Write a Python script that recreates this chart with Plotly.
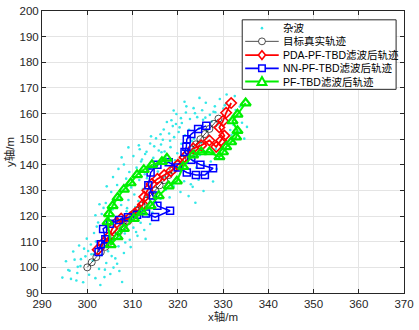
import plotly.graph_objects as go

# clutter (杂波)
clutter_x = [294.5,295.8,296.4,297.2,297.8,298.5,299.1,299.6,300.4,301.2,301.8,302.6,303.1,296.9,298.2,300.8,302.9,304.2,305.1,304.6,306.2,307.7,305.8,299.9,301.5,303.7,306.9,308.1,298.6,295.3,
             302.4,303.2,304.5,305.3,306.1,307.2,308.3,309.4,310.2,311.1,309.8,308.7,307.5,306.4,305.6,304.1,303.6,311.8,312.6,313.4,310.6,312.2,305.1,307.9,309.1,301.8,313.9,314.4,302.7,306.8,
             305.3,306.6,307.9,308.6,309.7,310.4,311.5,312.3,313.1,314.2,315.1,316.2,317.4,318.2,319.1,316.8,315.6,313.8,312.7,310.9,309.3,308.1,311.9,317.9,319.8,320.6,321.4,314.7,307.4,318.7,
             310.2,311.6,312.8,313.9,314.6,315.8,316.7,317.3,318.4,319.2,319.9,320.8,321.6,322.3,323.4,324.1,324.9,325.8,326.6,327.3,325.2,323.6,322.5,320.4,318.1,316.2,328.4,329.1,326.9,324.7,
             318.6,319.7,320.9,321.8,322.7,323.5,324.3,325.4,326.2,327.1,328.2,329.3,330.1,331.2,332.3,333.1,334.2,333.7,332.6,330.8,328.9,327.5,326.4,331.9,333.4,334.7,335.3,329.8,321.5,324.8,
             322.4,323.3,324.6,325.7,326.5,327.8,328.6,323.9,304.3,305.7,306.9,307.6,309.1,
             300.2,301.9,303.4,304.9,306.3,308.8,311.3,313.2,315.4,317.1,319.4,321.1,323.1,325.6,327.9,330.4,316.3,318.9,320.2,322.9,
             313.1,314.8,316.9,318.3,319.6,320.7,317.6,315.2,312.1,311.4,314.1,316.4,319.1,321.9,323.8,326.1,328.3,330.7,332.8,331.6,
             296.1,297.6,299.3,301.4,303.9,305.4,307.1,309.6,310.8,312.9,302.1,304.7,307.3,309.9,312.4,297.9,300.9,303.8,306.6,308.4]
clutter_y = [96.0,99.0,95.5,103.0,97.8,100.5,94.2,104.3,97.1,102.6,95.8,99.4,104.8,106.2,108.5,108.9,93.1,101.7,97.4,106.3,103.5,94.3,99.9,111.2,113.4,111.9,108.2,105.6,103.2,102.4,
             117.5,120.8,114.7,110.6,113.9,111.4,113.2,110.8,115.5,112.3,118.7,121.9,124.3,119.2,122.6,125.1,123.2,117.4,114.6,119.8,123.5,122.1,116.8,117.5,126.3,120.3,116.9,121.4,124.6,127.2,
             129.4,132.1,129.9,134.6,131.2,128.4,134.1,130.5,127.6,132.9,129.1,126.8,130.2,127.3,131.6,134.7,137.4,138.6,136.3,138.9,137.2,140.1,141.3,136.1,134.8,129.4,133.6,125.6,126.1,139.3,
             143.4,146.1,144.2,148.3,142.7,145.6,149.8,143.1,146.9,150.8,144.5,148.2,151.5,145.7,141.6,138.9,143.8,140.2,144.9,141.3,148.6,150.1,153.7,154.6,152.2,151.9,146.2,142.7,151.3,154.2,
             157.4,159.8,156.3,160.4,157.9,162.1,158.6,161.3,164.2,159.5,162.8,165.7,161.9,157.2,155.6,159.3,156.4,162.7,166.8,167.4,155.8,156.9,153.3,151.7,152.9,150.2,154.8,150.6,164.6,166.1,
             127.8,131.4,134.2,129.8,136.7,133.5,138.4,125.2,131.6,135.2,138.4,142.9,146.8,
             106.4,110.1,108.2,118.4,115.7,123.1,125.9,134.8,139.6,145.2,141.8,138.2,149.3,157.6,160.7,163.2,147.9,155.1,152.8,132.4,
             145.1,147.2,153.8,149.4,155.9,158.2,156.7,150.3,142.1,147.6,151.1,144.9,161.2,162.8,160.1,158.4,160.5,163.9,161.4,153.6,
             98.7,94.9,107.3,105.2,99.1,104.4,98.6,107.9,113.8,111.1,115.9,119.6,115.4,121.8,125.3,100.2,105.1,96.2,101.4,109.7]

# true trajectory (目标真实轨迹)
true_x = [300,301,302,303,304,305,306,307,308,309,310,311,312,313,314,315,316,317,318,319,320,321,322,323,324,325,326,327,328,329]
true_y = [100,102,104,106,108,110,112,114,116,118,120,122,124,126,128,130,132,134,136,138,140,142,144,146,148,150,152,154,156,158]

# PDA-PF-TBD
pda_x = [302.3,303.5,304.8,305.5,306.5,307.5,308.5,309.5,310.5,311.5,312.3,312.6,313.3,314.2,315.5,317.0,318.5,320.0,321.5,323.4,325.2,327.0,328.5,329.6,330.3,329.2,330.0,330.7,331.8]
pda_y = [106.9,109.5,112.0,115.0,117.5,119.0,118.0,119.5,121.0,122.5,124.5,127.5,130.0,132.5,134.5,136.0,137.5,140.0,143.0,146.4,147.6,149.5,147.0,149.5,151.4,154.6,157.1,160.3,164.1]

# NN-PF-TBD
nn_x = [302.5,303.0,304.0,303.5,305.0,307.0,309.0,311.0,313.0,315.0,318.3,315.5,314.5,313.5,314.0,315.5,318.0,320.0,322.0,324.0,326.0,327.8,325.0,323.0,321.5,321.9,322.0,323.0,324.5,326.3]
nn_y = [106.0,109.0,111.0,115.0,117.0,118.5,119.5,120.5,121.0,119.6,122.1,124.0,128.0,132.0,137.0,140.0,141.0,139.0,137.0,136.0,136.0,138.7,140.0,142.0,145.0,147.0,150.0,152.0,154.0,155.2]

# PF-TBD
pf_x = [317.6,316.5,314.3,312.5,311.0,309.6,308.1,306.7,305.6,304.8,304.5,305.2,306.7,308.1,310.3,312.1,314.0,315.8,318.0,319.8,321.2,323.4,325.2,327.0,329.2,330.0,330.7,331.8,332.9,333.2,332.1,333.2,335.0]
pf_y = [142.5,141.2,140.0,138.1,136.1,132.9,130.4,127.2,124.0,120.9,117.7,108.8,111.9,115.1,119.0,121.5,124.0,127.9,131.7,133.6,139.3,143.8,145.0,145.0,143.1,145.0,147.0,148.9,150.8,153.3,157.1,159.7,164.1]

x_ticks = [290, 300, 310, 320, 330, 340, 350, 360, 370]
y_ticks = [90, 100, 110, 120, 130, 140, 150, 160, 170, 180, 190, 200]
legend_names = ["杂波", "目标真实轨迹", "PDA-PF-TBD滤波后轨迹", "NN-PF-TBD滤波后轨迹", "PF-TBD滤波后轨迹"]

W, H = 419, 330
ML, MR, MT, MB = 42, 10, 5, 37
PW, PH = W - ML - MR, H - MT - MB


def px(xp):
    return (xp - ML) / PW


def py(yp):
    return (H - MB - yp) / PH


fig = go.Figure()
fig.add_trace(go.Scatter(x=clutter_x, y=clutter_y, mode="markers", name=legend_names[0],
                         marker=dict(symbol="circle", size=2.6, color="#33e8e8", line=dict(width=0))))
fig.add_trace(go.Scatter(x=true_x, y=true_y, mode="lines+markers", name=legend_names[1],
                         line=dict(color="#222222", width=0.8),
                         marker=dict(symbol="circle-open", size=7, color="#222222", line=dict(width=0.8))))
fig.add_trace(go.Scatter(x=pda_x, y=pda_y, mode="lines+markers", name=legend_names[2],
                         line=dict(color="#ff0000", width=1.8),
                         marker=dict(symbol="diamond-open", size=8, color="#ff0000", line=dict(width=1.6))))
fig.add_trace(go.Scatter(x=nn_x, y=nn_y, mode="lines+markers", name=legend_names[3],
                         line=dict(color="#0000ff", width=1.5),
                         marker=dict(symbol="square-open", size=7, color="#0000ff", line=dict(width=1.5))))
fig.add_trace(go.Scatter(x=pf_x, y=pf_y, mode="lines+markers", name=legend_names[4],
                         line=dict(color="#00ff00", width=2),
                         marker=dict(symbol="triangle-up-open", size=9, color="#00ee00", line=dict(width=2.2))))

# legend box drawn manually (MATLAB-style compact legend)
shapes = []
annotations = []
lx0, lx1, ly0, ly1 = 245, 401, 14, 85
shapes.append(dict(type="rect", xref="paper", yref="paper", x0=px(lx0), x1=px(lx1), y0=py(ly1), y1=py(ly0),
                   fillcolor="white", line=dict(color="#262626", width=1), layer="above"))
rows = [22.5, 36, 50, 63.5, 77]
colors = ["#33e8e8", "#222222", "#ff0000", "#0000ff", "#00ee00"]
widths = [0, 0.8, 1.8, 1.8, 2]
cx = 265
for i, name in enumerate(legend_names):
    yy = rows[i]
    if i > 0:
        shapes.append(dict(type="line", xref="paper", yref="paper", x0=px(248), x1=px(282), y0=py(yy), y1=py(yy),
                           line=dict(color=colors[i], width=widths[i]), layer="above"))
    if i == 0:
        r = 1.3
        shapes.append(dict(type="circle", xref="paper", yref="paper", x0=px(cx - r), x1=px(cx + r),
                           y0=py(yy + r), y1=py(yy - r), fillcolor=colors[0], line=dict(width=0), layer="above"))
    elif i == 1:
        r = 3.5
        shapes.append(dict(type="circle", xref="paper", yref="paper", x0=px(cx - r), x1=px(cx + r),
                           y0=py(yy + r), y1=py(yy - r), fillcolor="white", line=dict(color=colors[1], width=0.8), layer="above"))
    elif i == 2:
        r = 4.5
        path = "M {} {} L {} {} L {} {} L {} {} Z".format(px(cx), py(yy - r), px(cx + r * 0.8), py(yy), px(cx), py(yy + r), px(cx - r * 0.8), py(yy))
        shapes.append(dict(type="path", xref="paper", yref="paper", path=path, fillcolor="white",
                           line=dict(color=colors[2], width=1.6), layer="above"))
    elif i == 3:
        r = 3.3
        shapes.append(dict(type="rect", xref="paper", yref="paper", x0=px(cx - r), x1=px(cx + r),
                           y0=py(yy + r), y1=py(yy - r), fillcolor="white", line=dict(color=colors[3], width=1.5), layer="above"))
    else:
        r = 4.5
        path = "M {} {} L {} {} L {} {} Z".format(px(cx), py(yy - r), px(cx + r), py(yy + r * 0.8), px(cx - r), py(yy + r * 0.8))
        shapes.append(dict(type="path", xref="paper", yref="paper", path=path, fillcolor="white",
                           line=dict(color=colors[4], width=2), layer="above"))
    annotations.append(dict(x=px(284), y=py(yy), xref="paper", yref="paper", text=name, showarrow=False,
                            xanchor="left", yanchor="middle",
                            font=dict(size=10.5, family="Liberation Sans, Noto Sans CJK SC", color="#000000")))

axis_common = dict(showline=True, mirror="ticks", linecolor="#262626", linewidth=1,
                   ticks="inside", ticklen=4, tickcolor="#262626",
                   showgrid=True, gridcolor="#e4e4e4", gridwidth=1, zeroline=False,
                   tickfont=dict(family="Liberation Sans, Arial", size=11.5, color="#262626"))

fig.update_layout(
    width=W, height=H,
    margin=dict(l=ML, r=MR, t=MT, b=MB),
    paper_bgcolor="white", plot_bgcolor="white",
    font=dict(family="Liberation Sans, Noto Sans CJK SC", color="#262626"),
    xaxis=dict(range=[290, 370], tickvals=x_ticks,
               title=dict(text="x轴/m", font=dict(size=11.5, family="Liberation Sans, Noto Sans CJK SC"), standoff=4),
               **axis_common),
    yaxis=dict(range=[90, 200], tickvals=y_ticks,
               title=dict(text="y轴/m", font=dict(size=11.5, family="Liberation Sans, Noto Sans CJK SC"), standoff=2),
               **axis_common),
    showlegend=False,
    shapes=shapes,
    annotations=annotations,
)

fig.write_html("out.html")
